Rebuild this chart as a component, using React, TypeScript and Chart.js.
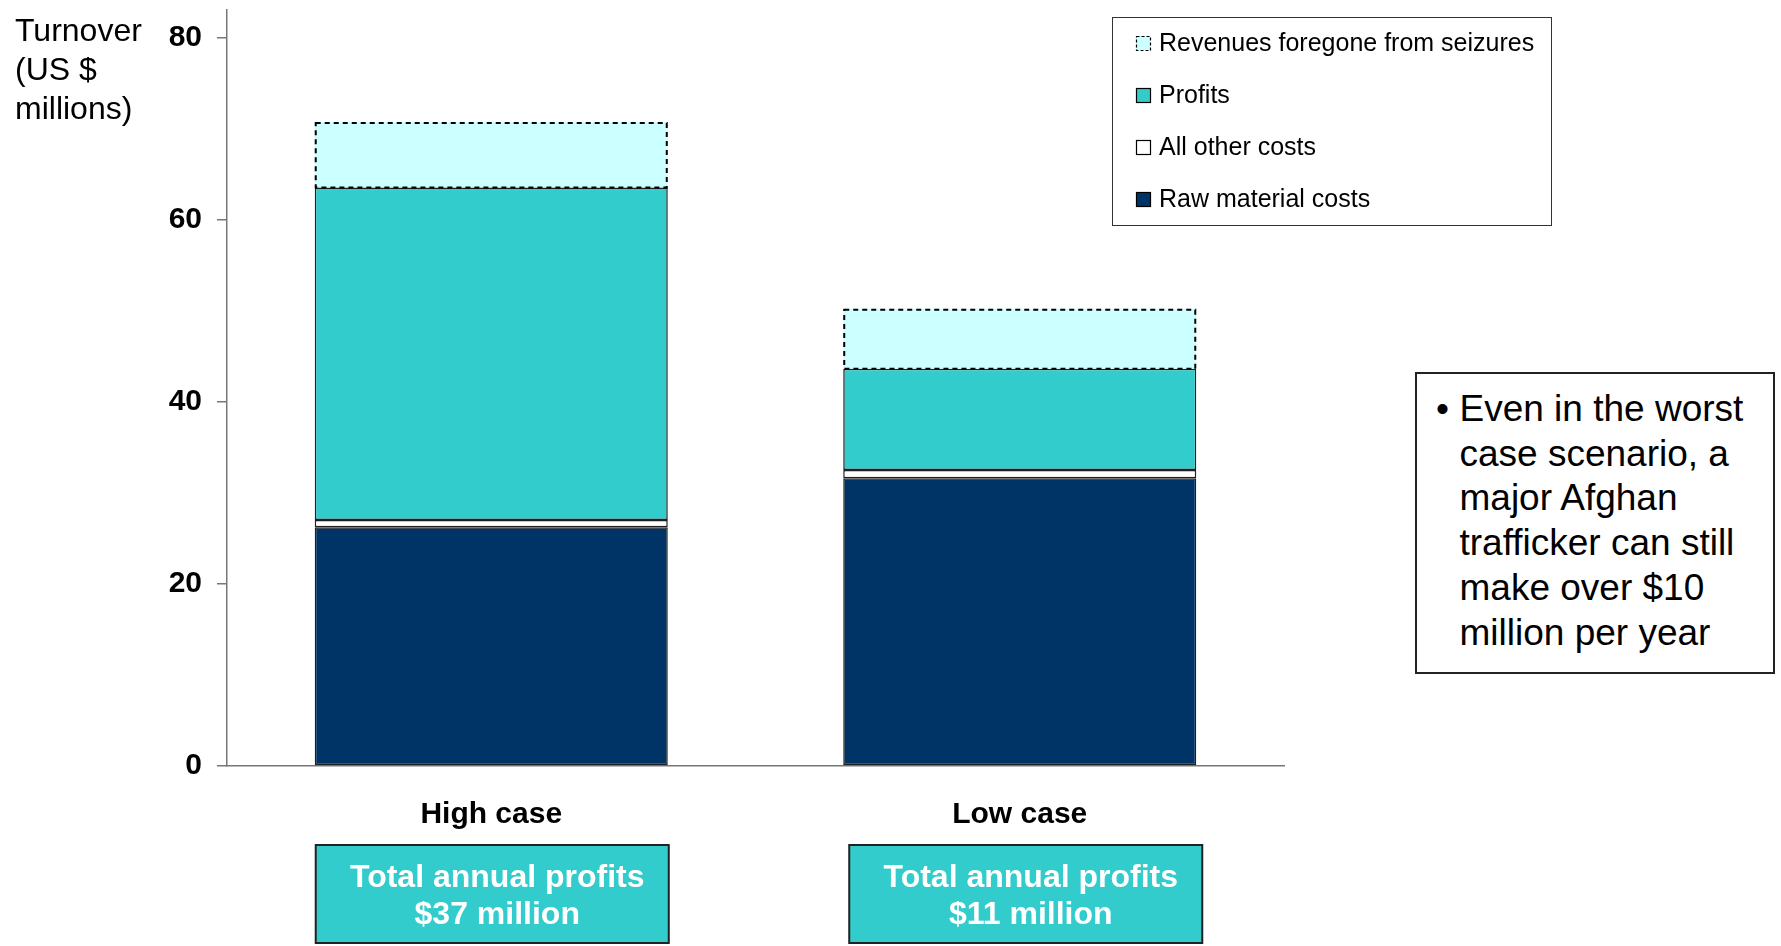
import React, { useEffect, useRef } from "react";
import { Chart, registerables } from "chart.js";

Chart.register(...registerables);

const categories = ["High case", "Low case"];
const rawMaterialCosts = [26.2, 31.6];
const allOtherCosts = [0.8, 0.9];
const profits = [36.5, 11.1];
const revenuesForegone = [7.2, 6.6];
const yTickValues = [0, 20, 40, 60, 80];
const summaryLines = [
  ["Total annual profits", "$37 million"],
  ["Total annual profits", "$11 million"],
];
const legendLabels = [
  "Raw material costs",
  "All other costs",
  "Profits",
  "Revenues foregone from seizures",
];
const annotationLines = [
  "Even in the worst",
  "case scenario, a",
  "major Afghan",
  "trafficker can still",
  "make over $10",
  "million per year",
];

const FONT = '"Liberation Sans", Arial, sans-serif';

const dashedPlugin = {
  id: "dashedSeizure",
  afterDatasetsDraw(chart: any) {
    const meta = chart.getDatasetMeta(3);
    const ctx = chart.ctx;
    ctx.save();
    ctx.setLineDash([5, 4]);
    ctx.lineWidth = 2;
    ctx.strokeStyle = "#000";
    meta.data.forEach((el: any) => {
      const p = el.getProps(["x", "y", "base", "width"], true);
      const l = p.x - p.width / 2;
      ctx.strokeRect(l + 1, p.y + 1, p.width - 2, p.base - p.y - 1);
    });
    ctx.restore();
  },
};

const legendPlugin = {
  id: "boxLegend",
  afterDraw(chart: any) {
    const ctx = chart.ctx;
    const bx = 1112, by = 17, bw = 439, bh = 208;
    ctx.save();
    ctx.fillStyle = "#fff";
    ctx.fillRect(bx, by, bw, bh);
    ctx.strokeStyle = "#333";
    ctx.lineWidth = 1;
    ctx.strokeRect(bx + 0.5, by + 0.5, bw, bh);
    const ds = chart.data.datasets.slice().reverse();
    ds.forEach((d: any, i: number) => {
      const cy = 43 + i * 52;
      const mx = 1136, ms = 14;
      ctx.fillStyle = d.backgroundColor;
      ctx.fillRect(mx, cy - ms / 2, ms, ms);
      ctx.strokeStyle = "#000";
      ctx.lineWidth = 1.2;
      if (d.dashed) ctx.setLineDash([3, 2]);
      else ctx.setLineDash([]);
      ctx.strokeRect(mx + 0.5, cy - ms / 2 + 0.5, ms, ms);
      ctx.setLineDash([]);
      ctx.fillStyle = "#000";
      ctx.font = `25px ${FONT}`;
      ctx.textBaseline = "middle";
      ctx.textAlign = "left";
      ctx.fillText(d.label, 1159, cy + 1);
    });
    ctx.restore();
  },
};

const summaryPlugin = {
  id: "summaryBoxes",
  afterDraw(chart: any) {
    const ctx = chart.ctx;
    const xs = chart.scales.x;
    const meta = chart.getDatasetMeta(0);
    ctx.save();
    summaryLines.forEach((lines, i) => {
      const el = meta.data[i];
      const w = el.width;
      const cx = xs.getPixelForValue(i) + (i === 0 ? 1 : 6);
      const top = 845, h = 98;
      ctx.fillStyle = "#33CCCC";
      ctx.fillRect(cx - w / 2, top, w, h);
      ctx.strokeStyle = "#222";
      ctx.lineWidth = 2;
      ctx.strokeRect(cx - w / 2, top, w, h);
      ctx.fillStyle = "#fff";
      ctx.font = `bold 32px ${FONT}`;
      ctx.textAlign = "center";
      ctx.textBaseline = "middle";
      ctx.fillText(lines[0], cx + 5, 878);
      ctx.fillText(lines[1], cx + 5, 915);
    });
    ctx.restore();
  },
};

export default function App() {
  const ref = useRef<HTMLCanvasElement>(null);
  useEffect(() => {
    if (!ref.current) return;
    const border = "#1f1f1f";
    const chart = new Chart(ref.current, {
      type: "bar",
      data: {
        labels: categories,
        datasets: [
          {
            label: legendLabels[0],
            data: rawMaterialCosts,
            backgroundColor: "#003366",
            borderColor: border,
            borderWidth: 1.5,
            borderSkipped: false,
          },
          {
            label: legendLabels[1],
            data: allOtherCosts,
            backgroundColor: "#ffffff",
            borderColor: border,
            borderWidth: 1.5,
            borderSkipped: false,
          },
          {
            label: legendLabels[2],
            data: profits,
            backgroundColor: "#33CCCC",
            borderColor: border,
            borderWidth: 1.5,
            borderSkipped: false,
          },
          {
            label: legendLabels[3],
            data: revenuesForegone,
            backgroundColor: "#CCFFFF",
            borderWidth: 0,
            dashed: true,
          } as any,
        ],
      },
      options: {
        responsive: false,
        animation: false,
        layout: { padding: { top: 10, right: 497, left: 0, bottom: 0 } },
        plugins: {
          legend: { display: false },
          tooltip: { enabled: false },
        },
        datasets: { bar: { barPercentage: 0.668, categoryPercentage: 1 } },
        scales: {
          x: {
            stacked: true,
            grid: { drawOnChartArea: false, drawTicks: false },
            border: { display: true, color: "#777", width: 1.5 },
            ticks: {
              color: "#000",
              font: { family: FONT, size: 30, weight: "bold" },
              padding: 31,
            },
            afterFit: (s: any) => {
              s.height = 180;
              s.paddingLeft = 0;
              s.paddingRight = 0;
            },
          },
          y: {
            stacked: true,
            min: 0,
            max: 83,
            grid: { drawOnChartArea: false, tickLength: 10, tickColor: "#777", lineWidth: 1.5 },
            border: { display: true, color: "#777", width: 1.5 },
            ticks: {
              color: "#000",
              font: { family: FONT, size: 30, weight: "bold" },
              padding: 15,
            },
            afterBuildTicks: (s: any) => {
              s.ticks = yTickValues.map((v) => ({ value: v }));
            },
            afterFit: (s: any) => {
              s.width = 227;
              s.paddingTop = 0;
              s.paddingBottom = 0;
            },
          },
        },
      } as any,
      plugins: [dashedPlugin, legendPlugin, summaryPlugin],
    });
    return () => chart.destroy();
  }, []);

  return (
    <div style={{ position: "absolute", left: 0, top: 0, width: 1781, height: 946, background: "#fff", fontFamily: FONT }}>
      <canvas ref={ref} width={1781} height={946} style={{ position: "absolute", left: 0, top: 0 }} />
      <div style={{ position: "absolute", left: 15, top: 11, fontSize: 32, lineHeight: "39px", color: "#000" }}>
        Turnover
        <br />
        (US $
        <br />
        millions)
      </div>
      <div
        style={{
          position: "absolute",
          left: 1415,
          top: 372,
          width: 356,
          height: 285,
          border: "2px solid #222",
          background: "#fff",
          fontSize: 37,
          lineHeight: "44.7px",
          color: "#000",
          paddingTop: 13,
          boxSizing: "content-box",
          whiteSpace: "nowrap",
        }}
      >
        {annotationLines.map((t, i) => (
          <div key={i} style={{ paddingLeft: 19, display: "flex" }}>
            <span style={{ width: 23.5, display: "inline-block" }}>{i === 0 ? "•" : ""}</span>
            <span>{t}</span>
          </div>
        ))}
      </div>
    </div>
  );
}
